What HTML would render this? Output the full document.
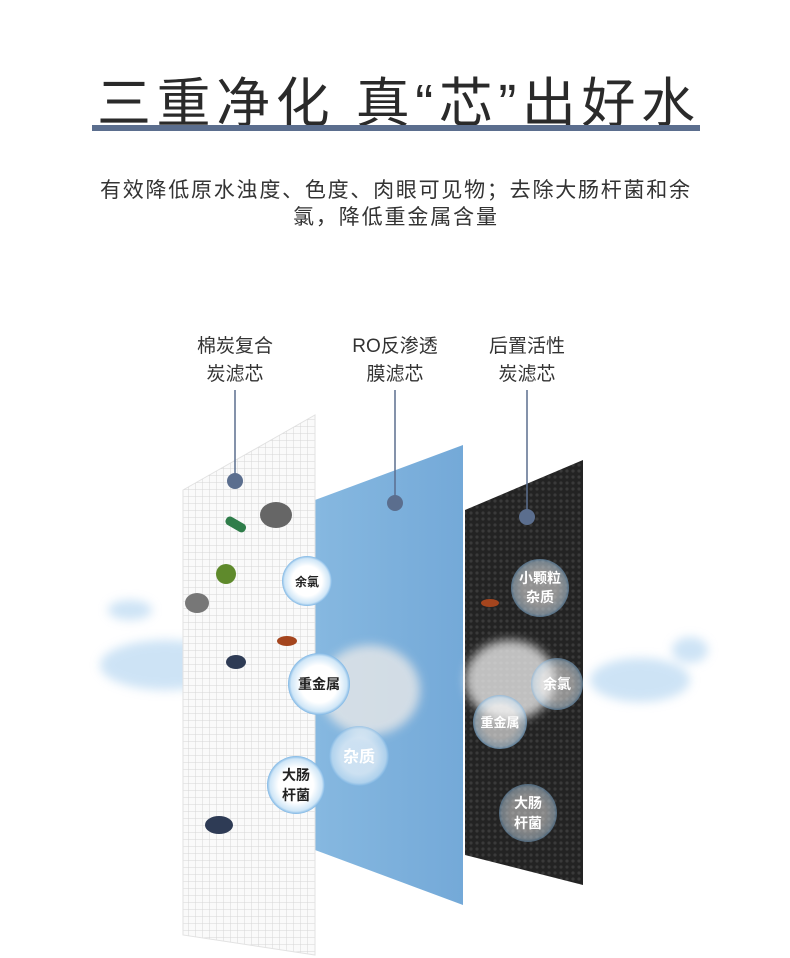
<!DOCTYPE html>
<html><head><meta charset="utf-8"><style>
html,body{margin:0;padding:0;background:#fff;}
body{width:790px;height:958px;position:relative;overflow:hidden;font-family:"Liberation Sans","Noto Sans CJK SC",sans-serif;}
</style></head><body>
<svg width="790" height="958" viewBox="0 0 790 958" xmlns="http://www.w3.org/2000/svg" style="position:absolute;left:0;top:0">
<defs>
<pattern id="grid" width="7" height="7" patternUnits="userSpaceOnUse">
<rect width="7" height="7" fill="#fafafa"/><path d="M7 0V7H0" fill="none" stroke="#d6d6d6" stroke-width="1"/>
</pattern>
<pattern id="dots" width="6" height="6" patternUnits="userSpaceOnUse">
<rect width="6" height="6" fill="#232323"/><circle cx="3" cy="3" r="1.6" fill="#3a3a3a"/>
</pattern>
<linearGradient id="blue" x1="0" y1="0" x2="1" y2="0"><stop offset="0" stop-color="#86b8e0"/><stop offset="1" stop-color="#74a9d8"/></linearGradient>
<radialGradient id="bub" cx="0.5" cy="0.5" r="0.5"><stop offset="0.6" stop-color="#ffffff"/><stop offset="0.9" stop-color="#cfe6f7"/><stop offset="1" stop-color="#7fb6e4"/></radialGradient>
<filter id="bl"><feGaussianBlur stdDeviation="5"/></filter>
</defs>
<text x="97" y="122" textLength="598" lengthAdjust="spacing" font-size="54" fill="#2a2a2a">三重净化 真“芯”出好水</text>
<rect x="92" y="125" width="608" height="6" fill="#5b6e8e"/>
<text x="100" y="197" textLength="590" lengthAdjust="spacing" font-size="21" fill="#333">有效降低原水浊度、色度、肉眼可见物；去除大肠杆菌和余</text>
<text x="293" y="224" textLength="204" lengthAdjust="spacing" font-size="21" fill="#333">氯，降低重金属含量</text>
<g font-size="19" fill="#333" text-anchor="middle">
<text x="235" y="352">棉炭复合</text><text x="235" y="380">炭滤芯</text>
<text x="395" y="352">RO反渗透</text><text x="395" y="380">膜滤芯</text>
<text x="527" y="352">后置活性</text><text x="527" y="380">炭滤芯</text>
</g>
<g fill="#a6cdee" opacity="0.55" filter="url(#bl)">
<ellipse cx="165" cy="665" rx="65" ry="25"/><ellipse cx="640" cy="680" rx="50" ry="22"/>
<ellipse cx="130" cy="610" rx="22" ry="10"/><ellipse cx="690" cy="650" rx="18" ry="13"/>
</g>
<polygon points="465,510 583,460 583,885 465,855" fill="url(#dots)"/>
<polygon points="315,500 463,445 463,905 315,850" fill="url(#blue)"/>
<polygon points="183,490 315,415 315,955 183,935" fill="url(#grid)"/>
<polygon points="183,490 315,415 315,955 183,935" fill="none" stroke="#e2e2e2"/>
<g fill="#e8e8e8" opacity="0.8" filter="url(#bl)">
<ellipse cx="370" cy="690" rx="50" ry="45"/><ellipse cx="510" cy="680" rx="45" ry="40"/>
</g>
<g stroke="#5b6e8e" stroke-width="1.5">
<line x1="235" y1="390" x2="235" y2="480"/><line x1="395" y1="390" x2="395" y2="502"/><line x1="527" y1="390" x2="527" y2="517"/>
</g>
<g fill="#5b6e8e"><circle cx="235" cy="481" r="8"/><circle cx="395" cy="503" r="8"/><circle cx="527" cy="517" r="8"/></g>
<ellipse cx="276" cy="515" rx="16" ry="13" fill="#666"/>
<rect x="225" y="520" width="22" height="9" rx="4" fill="#2f7d4a" transform="rotate(30 236 524)"/>
<circle cx="226" cy="574" r="10" fill="#5f8a2c"/>
<ellipse cx="197" cy="603" rx="12" ry="10" fill="#777"/>
<ellipse cx="287" cy="641" rx="10" ry="5" fill="#a4451e"/>
<ellipse cx="219" cy="825" rx="14" ry="9" fill="#2e3b55"/>
<ellipse cx="236" cy="662" rx="10" ry="7" fill="#2e3b55"/>
<ellipse cx="490" cy="603" rx="9" ry="4" fill="#a4451e"/>
<g font-size="14" font-weight="bold" text-anchor="middle" fill="#222">
<circle cx="307" cy="581" r="25" fill="url(#bub)"/><text x="307" y="586" font-size="12">余氯</text>
<circle cx="319" cy="684" r="31" fill="url(#bub)"/><text x="319" y="689">重金属</text>
<circle cx="359" cy="756" r="30" fill="url(#bub)" opacity="0.6"/><text x="359" y="762" font-size="16" fill="#fff">杂质</text>
<circle cx="296" cy="785" r="29" fill="url(#bub)"/><text x="296" y="780">大肠</text><text x="296" y="800">杆菌</text>
<circle cx="540" cy="588" r="29" fill="url(#bub)" opacity="0.5"/><text x="540" y="583" fill="#fff">小颗粒</text><text x="540" y="602" fill="#fff">杂质</text>
<circle cx="557" cy="684" r="26" fill="url(#bub)" opacity="0.5"/><text x="557" y="689" fill="#fff">余氯</text>
<circle cx="500" cy="722" r="27" fill="url(#bub)" opacity="0.6"/><text x="500" y="727" font-size="13" fill="#fff">重金属</text>
<circle cx="528" cy="813" r="29" fill="url(#bub)" opacity="0.45"/><text x="528" y="808" fill="#fff">大肠</text><text x="528" y="828" fill="#fff">杆菌</text>
</g>
</svg>
</body></html>
